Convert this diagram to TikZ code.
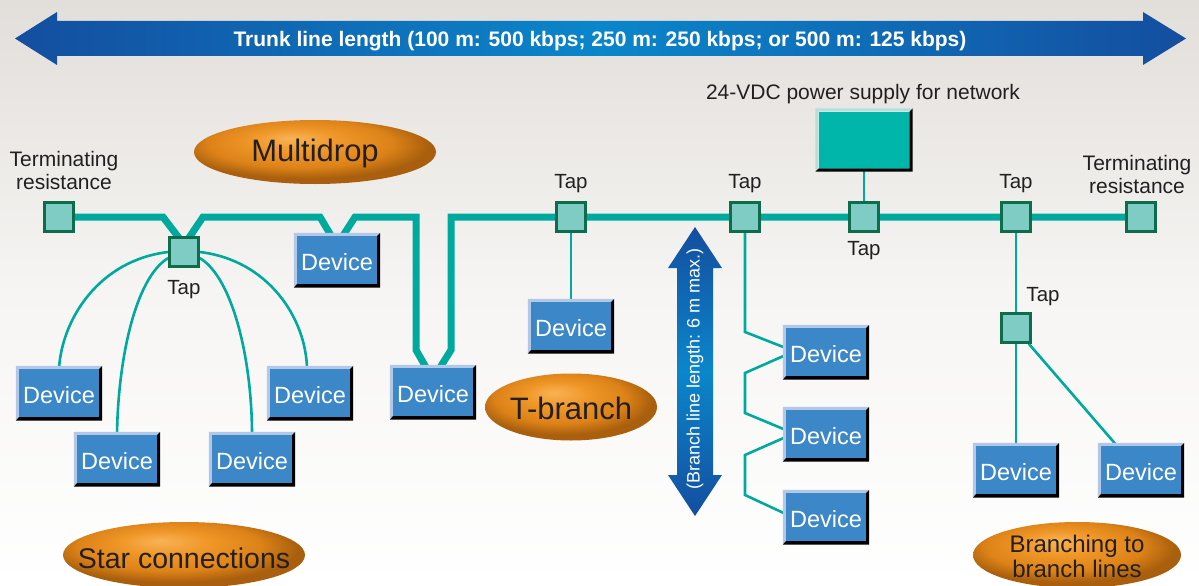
\documentclass[tikz,border=0pt]{standalone}
\usepackage{fontspec}
\setmainfont{Liberation Sans}
\usetikzlibrary{shapes.geometric}
\definecolor{bgtop}{HTML}{E2DEDA}
\definecolor{bgmid}{HTML}{F6F5F3}
\definecolor{trunkc}{HTML}{00A99D}
\definecolor{tapfill}{HTML}{7FCCC5}
\definecolor{tapdraw}{HTML}{0E6B4B}
\definecolor{devblue}{HTML}{3B87C7}
\definecolor{devlight}{HTML}{B3C8E6}
\definecolor{psuteal}{HTML}{00B5AA}
\definecolor{psulight}{HTML}{B2E0DC}
\definecolor{textdark}{HTML}{231F20}
\definecolor{arrdark}{HTML}{144E9F}
\definecolor{arrlight}{HTML}{0A86CB}
\definecolor{orA}{HTML}{F8B356}
\definecolor{orB}{HTML}{F09728}
\definecolor{orC}{HTML}{DC8218}
\definecolor{orD}{HTML}{A95F0D}
\pgfdeclareradialshading{orangeball}{\pgfpoint{-5bp}{11bp}}{color(0bp)=(orA); color(9bp)=(orB); color(19bp)=(orC); color(26bp)=(orD); color(50bp)=(orD)}
\pgfdeclarelayer{back}
\pgfdeclarelayer{lines}
\pgfsetlayers{back,lines,main}
\begin{document}
\begin{tikzpicture}[x=1pt,y=-1pt,
  trunk/.style={draw=trunkc, line width=7pt, line join=miter},
  branch/.style={draw=trunkc, line width=2.6pt},
  tapbox/.style={rectangle, draw=tapdraw, fill=tapfill, line width=2.5pt, minimum size=29pt, inner sep=0},
  device/.style={rectangle, fill=devblue, minimum width=80pt, minimum height=48pt, inner sep=0, text height=20pt, text depth=0pt, text=white, font=\fontsize{23.5}{28}\selectfont},
  lbl/.style={text=textdark, inner sep=0, font=\fontsize{20.5}{23}\selectfont},
  biglbl/.style={text=textdark, inner sep=0, align=center, font=\fontsize{21}{23}\selectfont},
  ovaltext/.style={text=textdark, inner sep=0, align=center},
  oval/.style={shading=orangeball}
]
\useasboundingbox (0,0) rectangle (1199,586);
\begin{pgfonlayer}{back}
\shade[top color=bgtop, bottom color=white, middle color=bgmid] (0,0) rectangle (1199,586);
\end{pgfonlayer}

% trunk length arrow
\shade[left color=arrdark, right color=arrdark, middle color=arrlight]
  (15,38.5) -- (57,12) -- (57,21) -- (1143,21) -- (1143,12) -- (1186,38.5) -- (1143,65) -- (1143,56) -- (57,56) -- (57,65) -- cycle;
\node[font=\bfseries\fontsize{21}{24}\selectfont, text=white, inner sep=0] (trunklbl) at (600,41) {Trunk line length (100 m: 500 kbps; 250 m: 250 kbps; or 500 m: 125 kbps)};

% branch length arrow
\shade[top color=arrdark, bottom color=arrdark, middle color=arrlight]
  (695,227) -- (722,268) -- (713,268) -- (713,475) -- (722,475) -- (695,516) -- (668,475) -- (677,475) -- (677,268) -- (668,268) -- cycle;
\node[rotate=90, text=white, inner sep=0, font=\fontsize{18}{20}\selectfont] (blbl) at (695,369) {(Branch line length: 6 m max.)};

% taps
\node[tapbox] (tL) at (59,217) {};
\node[tapbox] (tap1) at (184,252) {};
\node[tapbox] (tap2) at (571,217) {};
\node[tapbox] (tap3) at (745,217) {};
\node[tapbox] (tap4) at (864,217) {};
\node[tapbox] (tap5) at (1016,217) {};
\node[tapbox] (tap6) at (1016,328) {};
\node[tapbox] (tR) at (1141,217) {};

% devices
\node[device] (d1) at (59,393) {Device};
\node[device] (d2) at (117,459) {Device};
\node[device] (d3) at (252,459) {Device};
\node[device] (d4) at (310,393) {Device};
\node[device] (dM) at (337,260) {Device};
\node[device] (dT) at (433,392) {Device};
\node[device] (dB) at (571,326) {Device};
\node[device] (c1) at (826,352) {Device};
\node[device] (c2) at (826,434) {Device};
\node[device] (c3) at (826,517) {Device};
\node[device] (bd1) at (1016,470) {Device};
\node[device] (bd2) at (1141,470) {Device};
\node[rectangle, fill=psuteal, minimum width=91pt, minimum height=57pt, inner sep=0] (psu) at (864,140) {};

\foreach \n in {d1,d2,d3,d4,dM,dT,dB,c1,c2,c3,bd1,bd2} {
  \fill[devlight] ([shift={(-3,-3)}]\n.north west) -- ([shift={(3,-3)}]\n.north east) -- (\n.north east) -- (\n.north west) -- (\n.south west) -- ([shift={(-3,3)}]\n.south west) -- cycle;
  \fill[black] ([shift={(3,-3)}]\n.north east) -- ([shift={(3,3.5)}]\n.south east) -- ([shift={(-3,3.5)}]\n.south west) -- (\n.south west) -- (\n.south east) -- (\n.north east) -- cycle;
}
\fill[psulight] ([shift={(-3,-3)}]psu.north west) -- ([shift={(3,-3)}]psu.north east) -- (psu.north east) -- (psu.north west) -- (psu.south west) -- ([shift={(-3,3)}]psu.south west) -- cycle;
\fill[black] ([shift={(3,-3)}]psu.north east) -- ([shift={(3,3)}]psu.south east) -- ([shift={(-3,3)}]psu.south west) -- (psu.south west) -- (psu.south east) -- (psu.north east) -- cycle;

% labels
\node[biglbl] (termL) at (64,170) {Terminating\\resistance};
\node[biglbl] (termR) at (1137,174) {Terminating\\resistance};
\node[biglbl] (psulbl) at (863,94) {24-VDC power supply for network};
\node[lbl] (l1) at (184,290) {Tap};
\node[lbl] (l2) at (571,184) {Tap};
\node[lbl] (l3) at (745,184) {Tap};
\node[lbl] (l4) at (864,251) {Tap};
\node[lbl] (l5) at (1016,184) {Tap};
\node[lbl] (l6) at (1043,297) {Tap};

% orange ovals
\shade[oval] (315,152) ellipse [x radius=121pt, y radius=32pt];
\node[ovaltext, font=\fontsize{31}{34}\selectfont] (multi) at (315,153) {Multidrop};
\shade[oval] (571,407) ellipse [x radius=86pt, y radius=33.5pt];
\node[ovaltext, font=\fontsize{31}{34}\selectfont] (tbr) at (571,408) {T-branch};
\shade[oval] (184,555) ellipse [x radius=121pt, y radius=33pt];
\node[ovaltext, font=\fontsize{28.5}{31}\selectfont] (star) at (184,558) {Star connections};
\shade[oval] (1077,555) ellipse [x radius=104pt, y radius=33pt];
\node[ovaltext, font=\fontsize{24}{25}\selectfont] (brl) at (1077,556) {Branching to\\branch lines};

% connectors
\begin{pgfonlayer}{lines}
\draw[trunk] (tL) -- (163,217) -- ([shift={(-4,3)}]tap1.north);
\draw[trunk] ([shift={(4,3)}]tap1.north) -- (203,217) -- (320,217) -- ([shift={(-4,3)}]dM.north);
\draw[trunk] ([shift={(4,3)}]dM.north) -- (355,217) -- (416,217) -- (416,350) -- ([shift={(-5,3)}]dT.north);
\draw[trunk] ([shift={(5,3)}]dT.north) -- (451,350) -- (451,217) -- (tR);
% star
\draw[branch] (tap1.west) .. controls (100,260) and (62,318) .. (d1.north);
\draw[branch] ([shift={(0,6)}]tap1.west) .. controls (135,278) and (118,360) .. (d2.north);
\draw[branch] ([shift={(0,6)}]tap1.east) .. controls (233,278) and (252,360) .. (d3.north);
\draw[branch] (tap1.east) .. controls (268,260) and (306,318) .. ([shift={(-3,0)}]d4.north);
% T-branch
\draw[branch] (tap2) -- (dB);
% daisy chain
\draw[branch] (tap3) -- (745,332) -- ([shift={(0,-4)}]c1.west);
\draw[branch] ([shift={(0,3)}]c1.west) -- (745,373) -- (745,413) -- ([shift={(0,-4)}]c2.west);
\draw[branch] ([shift={(0,3)}]c2.west) -- (745,455) -- (745,495) -- ([shift={(0,-3)}]c3.west);
% power supply
\draw[branch] (psu) -- (tap4);
% branch to branch lines
\draw[branch] (tap5) -- (tap6);
\draw[branch] (tap6) -- (bd1);
\draw[branch] ([shift={(-3,0)}]tap6.south east) -- ([shift={(-24,0)}]bd2.north);
\end{pgfonlayer}
\end{tikzpicture}
\end{document}
